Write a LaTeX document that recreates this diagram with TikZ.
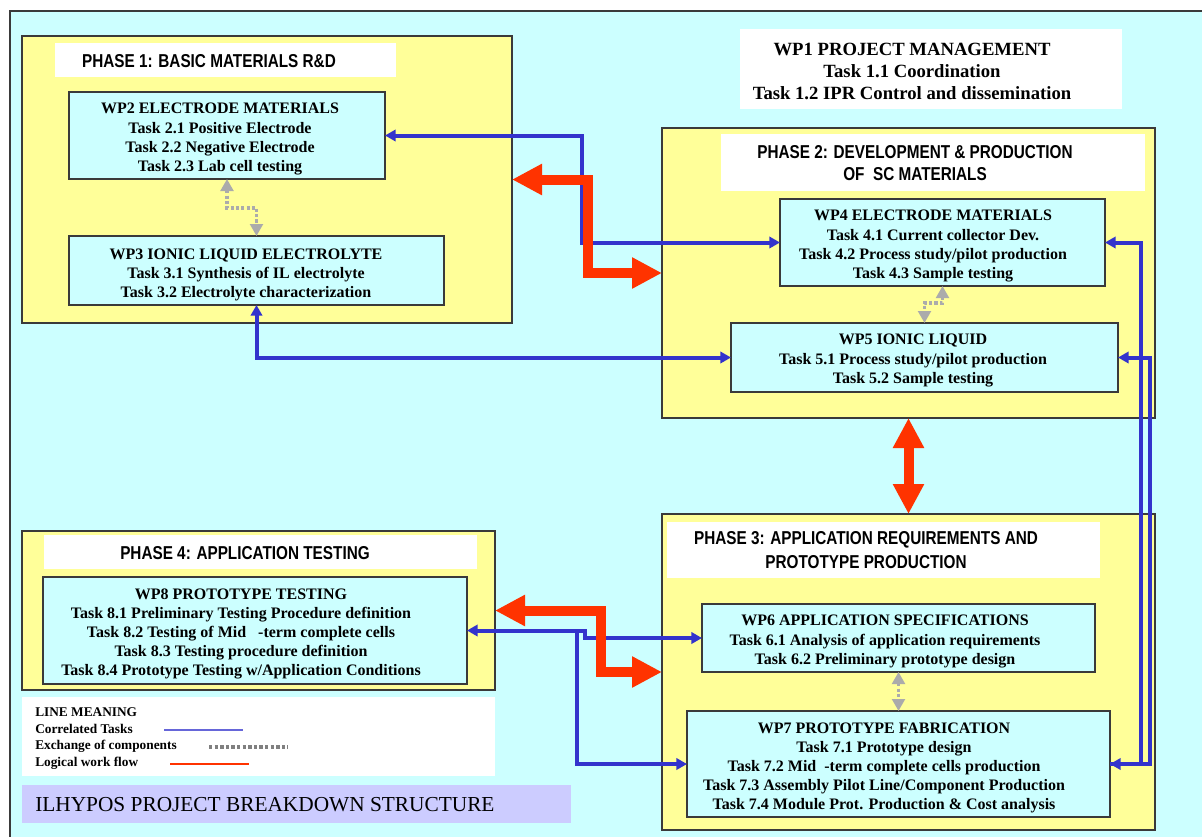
\documentclass[tikz,border=0pt]{standalone}
\usepackage{fontspec}
\setmainfont{Liberation Serif}
\newfontfamily\narrowsans[FakeStretch=0.82]{Liberation Sans}
\usetikzlibrary{arrows.meta,fit,calc}
\definecolor{bgcyan}{HTML}{CCFFFF}
\definecolor{phyellow}{HTML}{FFFF99}
\definecolor{framec}{HTML}{3A3A3A}
\definecolor{linkblue}{HTML}{3333CC}
\definecolor{flowred}{HTML}{FF3300}
\definecolor{exgray}{HTML}{ABABAB}
\definecolor{titlepurple}{HTML}{CCCCFF}
\begin{document}
\begin{tikzpicture}[x=0.75pt,y=-0.75pt,
  phase/.style={draw=framec, line width=1.1pt, fill=phyellow, inner sep=0pt, outer sep=0pt},
  titlebox/.style={fill=white, inner sep=0pt, outer sep=0pt},
  wpbox/.style={draw=framec, line width=0.9pt, fill=bgcyan, inner sep=0pt, outer sep=0pt},
  wptext/.style={font=\fontsize{12}{14.3}\selectfont\bfseries, align=center, inner sep=0pt},
  phtext/.style={font=\narrowsans\bfseries\fontsize{14}{17}\selectfont, align=center, inner sep=0pt},
  legtext/.style={font=\fontsize{10}{12}\selectfont\bfseries, anchor=west, inner sep=0pt},
  corr/.style={draw=linkblue, line width=3pt, >={Triangle[length=8pt,width=8.5pt]}},
  exch/.style={draw=exgray, line width=2.4pt, dash pattern=on 2.4pt off 1.6pt, >={Triangle[length=9pt,width=9.5pt]}},
  flow/.style={draw=flowred, line width=7.5pt, >={Triangle[length=22.5pt,width=22pt]}}
]
\useasboundingbox (0,0) rectangle (1202,836);
\fill[white] (0,0) rectangle (1202,836);
\node[fill=bgcyan, draw=framec, line width=1pt, inner sep=0pt, fit={(10,11) (1212,848)}] (bg) {};

% Phase boxes
\node[phase, fit={(22,36) (512,323)}] (ph1) {};
\node[phase, fit={(662,128) (1155,418)}] (ph2) {};
\node[phase, fit={(662,514) (1155,830)}] (ph3) {};
\node[phase, fit={(22,531) (495,690)}] (ph4) {};

% Title boxes
\node[titlebox, fit={(55,43) (396,77)}] (ph1t) {};
\node[titlebox, fit={(721,134) (1145,191)}] (ph2t) {};
\node[titlebox, fit={(667,522) (1100,578)}] (ph3t) {};
\node[titlebox, fit={(44,535) (477,569)}] (ph4t) {};
\node[titlebox, fit={(740,29) (1122,109)}] (wp1) {};

% WP boxes
\node[wpbox, fit={(69,92) (385,179)}] (wp2) {};
\node[wpbox, fit={(69,236) (444,305)}] (wp3) {};
\node[wpbox, fit={(780,199) (1105,286)}] (wp4) {};
\node[wpbox, fit={(731,323) (1118,392)}] (wp5) {};
\node[wpbox, fit={(702,604) (1095,672)}] (wp6) {};
\node[wpbox, fit={(687,711) (1110,817)}] (wp7) {};
\node[wpbox, fit={(43,577) (467,684)}] (wp8) {};

% Legend and title
\node[titlebox, fit={(22,697) (495,776)}] (legend) {};
\node[fill=titlepurple, inner sep=0pt, fit={(22,785) (571,823)}] (maintitle) {};

% Correlated tasks (blue)
\coordinate (j1) at (582,190);
\draw[corr,<->] (wp2.east) -| (j1) |- (wp4.west);
\draw[corr,<->] (wp3.south) |- (wp5.west);
\coordinate (rx1) at (1141,500);
\coordinate (rx2) at (1150,500);
\draw[corr,<->] (wp4.east) -| (rx1) |- (wp7.east);
\draw[corr,<-] (wp5.east) -| (rx2) |- (wp7.east);
\coordinate (bj1) at (585,634);
\draw[corr,<->] (wp8.east) -| (bj1) |- (wp6.west);
\coordinate (bj2) at ($(wp8.east)+(110,0)$);
\draw[corr,->] (bj2) |- (wp7.west);

% Exchange of components (gray)
\coordinate (g1) at (240,208);
\draw[exch,<->] (wp2.south) |- (g1) -| (wp3.north);
\coordinate (g2) at (933,303);
\draw[exch,<->] (wp4.south) |- (g2) -| (wp5.north);
\draw[exch,<->] (wp6.south) -- (wp7.north);

% Logical work flow (red)
\coordinate (r1) at (587.5,220);
\draw[flow,<->] (ph1.east) -| (r1) |- (ph2.west);
\draw[flow,<->] (ph2.south) -- (ph3.north);
\coordinate (r2) at (600.5,640);
\draw[flow,<->] (ph4.east) -| (r2) |- (ph3.west);

% Texts
\node[phtext] (ph1l) at (209,61) {PHASE 1: BASIC MATERIALS R\&D};
\node[phtext, font=\narrowsans\bfseries\fontsize{14}{16.5}\selectfont] (ph2l) at (915,163) {PHASE 2: DEVELOPMENT \& PRODUCTION\\OF~~SC MATERIALS};
\node[phtext, font=\narrowsans\bfseries\fontsize{14}{18}\selectfont] (ph3l) at (866,550) {PHASE 3: APPLICATION REQUIREMENTS AND\\PROTOTYPE PRODUCTION};
\node[phtext] (ph4l) at (245,553) {PHASE 4: APPLICATION TESTING};

\node[wptext, font=\fontsize{14}{16.5}\selectfont\bfseries] (wp1l) at (912,71) {WP1 PROJECT MANAGEMENT\\Task 1.1 Coordination\\Task 1.2 IPR Control and dissemination};
\node[wptext] (wp2l) at (220,139) {WP2 ELECTRODE MATERIALS\\Task 2.1 Positive Electrode\\Task 2.2 Negative Electrode\\Task 2.3 Lab cell testing};
\node[wptext] (wp3l) at (246,274.5) {WP3 IONIC LIQUID ELECTROLYTE\\Task 3.1 Synthesis of IL electrolyte\\Task 3.2 Electrolyte characterization};
\node[wptext] (wp4l) at (933,246) {WP4 ELECTRODE MATERIALS\\Task 4.1 Current collector Dev.\\Task 4.2 Process study/pilot production\\Task 4.3 Sample testing};
\node[wptext] (wp5l) at (913,360.5) {WP5 IONIC LIQUID\\Task 5.1 Process study/pilot production\\Task 5.2 Sample testing};
\node[wptext] (wp6l) at (885,641.5) {WP6 APPLICATION SPECIFICATIONS\\Task 6.1 Analysis of application requirements\\Task 6.2 Preliminary prototype design};
\node[wptext] (wp7l) at (884,768) {WP7 PROTOTYPE FABRICATION\\Task 7.1 Prototype design\\Task 7.2 Mid~~-term complete cells production\\Task 7.3 Assembly Pilot Line/Component Production\\Task 7.4 Module Prot. Production \& Cost analysis};
\node[wptext] (wp8l) at (241,634) {WP8 PROTOTYPE TESTING\\Task 8.1 Preliminary Testing Procedure definition\\Task 8.2 Testing of Mid~~~-term complete cells\\Task 8.3 Testing procedure definition\\Task 8.4 Prototype Testing w/Application Conditions};

\node[legtext] (lg0) at (35,712) {LINE MEANING};
\node[legtext] (lg1) at (35,729) {Correlated Tasks};
\node[legtext] (lg2) at (35,746) {Exchange of components};
\node[legtext] (lg3) at (35,763) {Logical work flow};
\coordinate (lb1) at (164,730); \coordinate (lb2) at (243,730);
\draw[draw=linkblue!75!white, line width=1.1pt] (lb1) -- (lb2);
\coordinate (lc1) at (209,747); \coordinate (lc2) at (288,747);
\draw[draw=gray, line width=2.6pt, dash pattern=on 2.6pt off 1.6pt] (lc1) -- (lc2);
\coordinate (ld1) at (170,764); \coordinate (ld2) at (249,764);
\draw[draw=flowred, line width=1.1pt] (ld1) -- (ld2);

\node[anchor=west, inner sep=0pt, font=\fontsize{16}{19}\selectfont] (mtl) at (35,805) {ILHYPOS PROJECT BREAKDOWN STRUCTURE};
\end{tikzpicture}
\end{document}
